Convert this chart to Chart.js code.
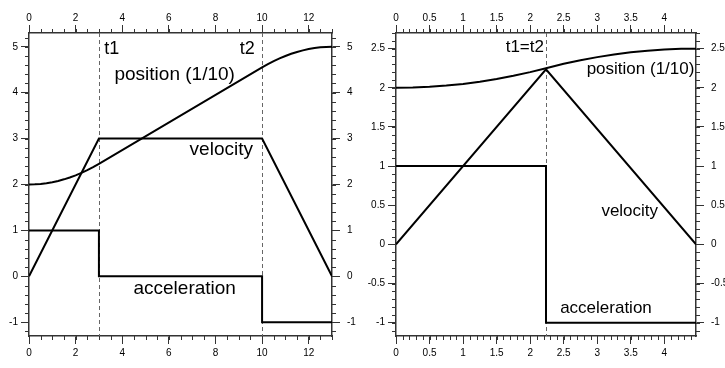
<!DOCTYPE html>
<html lang="en">
<head>
<meta charset="UTF-8">
<title>Motion profiles</title>
<script src="https://cdn.jsdelivr.net/npm/chart.js"></script>
<style>
  html, body { margin: 0; padding: 0; background: #fff; overflow: hidden; }
  #wrap { position: relative; width: 725px; height: 368px; overflow: hidden; }
  canvas { position: absolute; top: 0; }
  #left { left: 0; }
  #right { left: 365px; }
</style>
</head>
<body>
<div id="wrap">
  <canvas id="left" width="365" height="368"></canvas>
  <canvas id="right" width="370" height="368"></canvas>
</div>
<script>
// ---- left panel: trapezoidal profile ----
const accTimeA = [0, 3, 3, 10, 10, 13];
const accA     = [1, 1, 0, 0, -1, -1];
const velTimeA = [0, 3, 10, 13];
const velA     = [0, 3, 3, 0];
const posTimeA = [0, 0.25, 0.5, 0.75, 1, 1.25, 1.5, 1.75, 2, 2.25, 2.5, 2.75, 3,
                  10, 10.25, 10.5, 10.75, 11, 11.25, 11.5, 11.75, 12, 12.25, 12.5, 12.75, 13];
const posA     = [2.0, 2.003, 2.0125, 2.028, 2.05, 2.078, 2.1125, 2.153, 2.2, 2.253, 2.3125, 2.378, 2.45,
                  4.55, 4.622, 4.6875, 4.747, 4.8, 4.847, 4.8875, 4.922, 4.95, 4.972, 4.9875, 4.997, 5.0];
const eventsA  = [3, 10];
const xTicksA  = [0, 2, 4, 6, 8, 10, 12];
const yTicksA  = [-1, 0, 1, 2, 3, 4, 5];

// ---- right panel: triangular profile ----
const accTimeB = [0, 2.236, 2.236, 4.472];
const accB     = [1, 1, -1, -1];
const velTimeB = [0, 2.236, 4.472];
const velB     = [0, 2.236, 0];
const posTimeB = [0, 0.25, 0.5, 0.75, 1, 1.25, 1.5, 1.75, 2, 2.236, 2.5, 2.75, 3, 3.25, 3.5, 3.75, 4, 4.25, 4.472];
const posB     = [2.0, 2.003, 2.0125, 2.028, 2.05, 2.078, 2.1125, 2.153, 2.2, 2.25, 2.306, 2.352, 2.392, 2.425, 2.453, 2.474, 2.489, 2.4975, 2.5];
const eventsB  = [2.236];
const xTicksB  = [0, 0.5, 1, 1.5, 2, 2.5, 3, 3.5, 4];
const yTicksB  = [-1, -0.5, 0, 0.5, 1, 1.5, 2, 2.5];

const FONT = "'Liberation Sans', Arial, Helvetica, sans-serif";
const AXIS_COLOR = '#333';

function zip(xs, ys) {
    return xs.map((x, i) => ({ x: x, y: ys[i] }));
}

// minor tick marks outside the plot frame
const minorTicks = {
    id: 'minorTicks',
    afterDraw(chart, args, opts) {
        const ctx = chart.ctx;
        const area = chart.chartArea;
        ctx.save();
        ctx.strokeStyle = AXIS_COLOR;
        ctx.lineWidth = 1;
        Object.values(chart.scales).forEach(scale => {
            const step = scale.axis === 'x' ? opts.xStep : opts.yStep;
            const start = Math.ceil(scale.min / step - 1e-6) * step;
            for (let v = start; v <= scale.max + 1e-9; v += step) {
                const p = Math.round(scale.getPixelForValue(v)) + 0.5;
                ctx.beginPath();
                if (scale.position === 'bottom') { ctx.moveTo(p, area.bottom); ctx.lineTo(p, area.bottom + 4); }
                if (scale.position === 'top')    { ctx.moveTo(p, area.top);    ctx.lineTo(p, area.top - 4); }
                if (scale.position === 'left')   { ctx.moveTo(area.left, p);   ctx.lineTo(area.left - 4, p); }
                if (scale.position === 'right')  { ctx.moveTo(area.right, p);  ctx.lineTo(area.right + 4, p); }
                ctx.stroke();
            }
        });
        ctx.restore();
    }
};

// dashed event lines and text labels
const annotations = {
    id: 'annotations',
    beforeDatasetsDraw(chart, args, opts) {
        const ctx = chart.ctx;
        const area = chart.chartArea;
        const xs = chart.scales.x;
        ctx.save();
        ctx.strokeStyle = '#666';
        ctx.lineWidth = 1;
        ctx.setLineDash([4, 3]);
        opts.events.forEach(t => {
            const p = Math.round(xs.getPixelForValue(t)) + 0.5;
            ctx.beginPath();
            ctx.moveTo(p, area.top);
            ctx.lineTo(p, area.bottom);
            ctx.stroke();
        });
        ctx.restore();
    },
    afterDatasetsDraw(chart, args, opts) {
        const ctx = chart.ctx;
        ctx.save();
        ctx.fillStyle = '#000';
        ctx.textAlign = 'center';
        ctx.textBaseline = 'middle';
        opts.notes.forEach(n => {
            ctx.font = n.size + 'px ' + FONT;
            ctx.fillText(n.text, chart.scales.x.getPixelForValue(n.x), chart.scales.y.getPixelForValue(n.y));
        });
        ctx.restore();
    }
};

function axis(position, min, max, ticks, size, pad) {
    return {
        type: 'linear',
        position: position,
        min: min,
        max: max,
        afterBuildTicks: s => { s.ticks = ticks.map(v => ({ value: v })); },
        afterFit: s => {
            if (position === 'top' || position === 'bottom') s.height = size;
            else s.width = size;
        },
        border: { display: true, color: AXIS_COLOR, width: 1.5 },
        grid: { drawOnChartArea: false, drawTicks: true, tickLength: 8, color: AXIS_COLOR, lineWidth: 1 },
        ticks: {
            color: '#000',
            padding: pad,
            maxRotation: 0,
            autoSkip: false,
            font: { family: FONT, size: 10 },
            callback: v => String(v)
        }
    };
}

function lineSet(points) {
    return {
        data: points,
        showLine: true,
        borderColor: '#000',
        borderWidth: 2,
        pointRadius: 0,
        fill: false,
        tension: 0
    };
}

function makeChart(id, cfg) {
    return new Chart(document.getElementById(id), {
        type: 'scatter',
        data: { datasets: cfg.series.map(lineSet) },
        options: {
            responsive: false,
            animation: false,
            layout: { padding: 0 },
            plugins: {
                legend: { display: false },
                tooltip: { enabled: false },
                minorTicks: cfg.minor,
                annotations: { events: cfg.events, notes: cfg.notes }
            },
            scales: {
                x:  axis('bottom', cfg.xMin, cfg.xMax, cfg.xTicks, cfg.sizes[3], 3),
                x2: axis('top',    cfg.xMin, cfg.xMax, cfg.xTicks, cfg.sizes[0], 1),
                y:  axis('left',   cfg.yMin, cfg.yMax, cfg.yTicks, cfg.sizes[1], 3),
                y2: axis('right',  cfg.yMin, cfg.yMax, cfg.yTicks, cfg.sizes[2], 7)
            }
        },
        plugins: [minorTicks, annotations]
    });
}

makeChart('left', {
    series: [zip(accTimeA, accA), zip(velTimeA, velA), zip(posTimeA, posA)],
    xMin: 0, xMax: 13, yMin: -1.3, yMax: 5.3,
    xTicks: xTicksA, yTicks: yTicksA,
    sizes: [33, 29, 33, 32],
    minor: { xStep: 0.5, yStep: 0.2 },
    events: eventsA,
    notes: [
        { text: 't1', x: 3.55, y: 4.94, size: 18 },
        { text: 't2', x: 9.36, y: 4.94, size: 18 },
        { text: 'position (1/10)', x: 6.25, y: 4.38, size: 19 },
        { text: 'velocity', x: 8.25, y: 2.75, size: 19 },
        { text: 'acceleration', x: 6.68, y: -0.265, size: 19 }
    ]
});

makeChart('right', {
    series: [zip(accTimeB, accB), zip(velTimeB, velB), zip(posTimeB, posB)],
    xMin: 0, xMax: 4.472, yMin: -1.17, yMax: 2.7,
    xTicks: xTicksB, yTicks: yTicksB,
    sizes: [33, 31, 39, 32],
    minor: { xStep: 0.1, yStep: 0.1 },
    events: eventsB,
    notes: [
        { text: 't1=t2', x: 1.92, y: 2.517, size: 17 },
        { text: 'position (1/10)', x: 3.645, y: 2.235, size: 17 },
        { text: 'velocity', x: 3.484, y: 0.427, size: 17 },
        { text: 'acceleration', x: 3.13, y: -0.817, size: 17 }
    ]
});
</script>
</body>
</html>
